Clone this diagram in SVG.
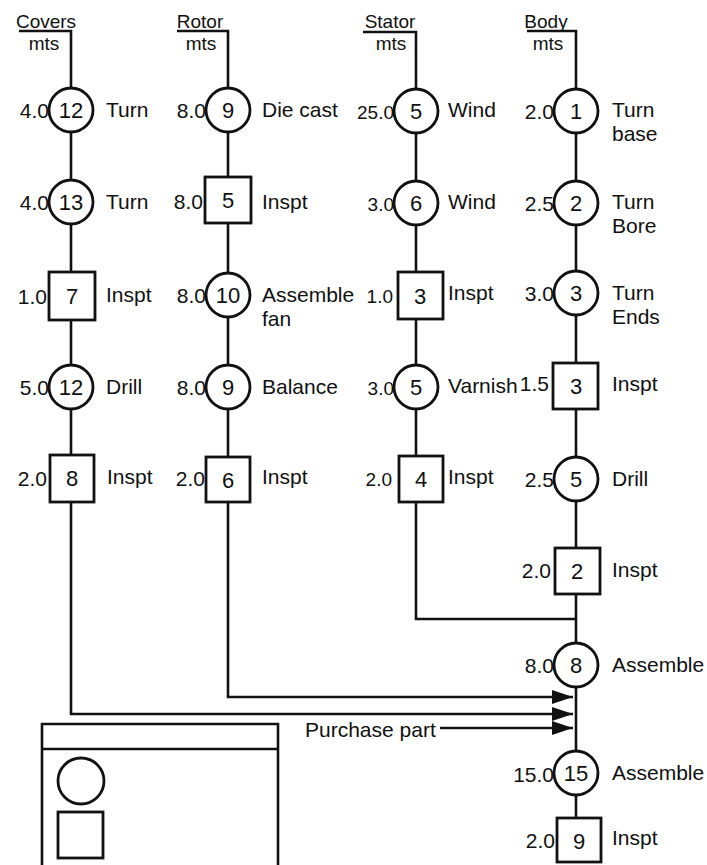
<svg xmlns="http://www.w3.org/2000/svg" width="707" height="865" viewBox="0 0 707 865">
<style>
text{font-family:"Liberation Sans",Arial,sans-serif;fill:#111}
.lbl{font-size:21px}
.num{font-size:22px;text-anchor:middle}
.t{font-size:21px;text-anchor:end}
.ts{font-size:19px;text-anchor:end}
.hd{font-size:19px;text-anchor:middle}
.sh{fill:#fff;stroke:#111;stroke-width:2.8}
.ln{fill:none;stroke:#111;stroke-width:2.6}
</style>
<defs>
<marker id="ah" markerUnits="userSpaceOnUse" markerWidth="22" markerHeight="16" refX="21" refY="7" orient="auto">
<path d="M0,0 L21,7 L0,14 Z" fill="#111"/>
</marker>
</defs>
<rect width="707" height="865" fill="#fff"/>

<g id="connectors">
<!-- Covers -->
<path class="ln" d="M19,31 H71 V88"/>
<path class="ln" d="M71,132 V180 M71,224 V272 M71,320 V365 M71,409 V455"/>
<path class="ln" d="M71,502 V714 H573" marker-end="url(#ah)"/>
<!-- Rotor -->
<path class="ln" d="M177,31 H228 V88"/>
<path class="ln" d="M228,132 V177 M228,223 V273 M228,317 V365 M228,409 V457"/>
<path class="ln" d="M228,502 V697 H573" marker-end="url(#ah)"/>
<!-- Stator -->
<path class="ln" d="M363,32 H416 V89"/>
<path class="ln" d="M416,133 V181 M416,225 V272 M416,319 V365 M416,409 V456"/>
<path class="ln" d="M416,502 V619 H576"/>
<!-- Body -->
<path class="ln" d="M527,31 H576 V89"/>
<path class="ln" d="M576,133 V181 M576,225 V271 M576,315 V363 M576,409 V457 M576,501 V548 M576,594 V643"/>
<path class="ln" d="M576,687 V751 M576,795 V818"/>
<!-- Purchase -->
<path class="ln" d="M440,728 H573" marker-end="url(#ah)"/>
</g>

<g id="headers">
<text class="hd" x="46" y="28">Covers</text><text class="hd" x="44" y="50">mts</text>
<text class="hd" x="200" y="28">Rotor</text><text class="hd" x="201" y="50">mts</text>
<text class="hd" x="390" y="28">Stator</text><text class="hd" x="391" y="50">mts</text>
<text class="hd" x="546" y="28">Body</text><text class="hd" x="548" y="50">mts</text>
</g>

<!-- Covers column -->
<g id="c1"><circle class="sh" cx="71" cy="110" r="22"/><text class="num" x="71" y="118">12</text><text class="t" x="49" y="118">4.0</text><text class="lbl" x="106" y="117">Turn</text></g>
<g id="c2"><circle class="sh" cx="71" cy="202" r="22"/><text class="num" x="71" y="210">13</text><text class="t" x="49" y="210">4.0</text><text class="lbl" x="106" y="209">Turn</text></g>
<g id="c3"><rect class="sh" x="49" y="272" width="46" height="48"/><text class="num" x="72" y="304">7</text><text class="t" x="47" y="304">1.0</text><text class="lbl" x="106" y="302">Inspt</text></g>
<g id="c4"><circle class="sh" cx="71" cy="387" r="22"/><text class="num" x="71" y="395">12</text><text class="t" x="49" y="395">5.0</text><text class="lbl" x="106" y="394">Drill</text></g>
<g id="c5"><rect class="sh" x="50" y="455" width="44" height="47"/><text class="num" x="72" y="486">8</text><text class="t" x="47" y="486">2.0</text><text class="lbl" x="107" y="484">Inspt</text></g>

<!-- Rotor column -->
<g id="r1"><circle class="sh" cx="228" cy="110" r="22"/><text class="num" x="228" y="118">9</text><text class="t" x="206" y="118">8.0</text><text class="lbl" x="262" y="117">Die cast</text></g>
<g id="r2"><rect class="sh" x="205" y="177" width="46" height="46"/><text class="num" x="228" y="208">5</text><text class="t" x="203" y="209">8.0</text><text class="lbl" x="262" y="209">Inspt</text></g>
<g id="r3"><circle class="sh" cx="228" cy="295" r="22"/><text class="num" x="228" y="303">10</text><text class="t" x="206" y="303">8.0</text><text class="lbl" x="262" y="302">Assemble</text><text class="lbl" x="262" y="326">fan</text></g>
<g id="r4"><circle class="sh" cx="228" cy="387" r="22"/><text class="num" x="228" y="395">9</text><text class="t" x="206" y="395">8.0</text><text class="lbl" x="262" y="394">Balance</text></g>
<g id="r5"><rect class="sh" x="206" y="457" width="44" height="45"/><text class="num" x="228" y="488">6</text><text class="t" x="205" y="486">2.0</text><text class="lbl" x="262" y="484">Inspt</text></g>

<!-- Stator column -->
<g id="s1"><circle class="sh" cx="416" cy="111" r="22"/><text class="num" x="416" y="119">5</text><text class="ts" x="394" y="119">25.0</text><text class="lbl" x="448" y="117">Wind</text></g>
<g id="s2"><circle class="sh" cx="416" cy="203" r="22"/><text class="num" x="416" y="211">6</text><text class="ts" x="394" y="211">3.0</text><text class="lbl" x="448" y="209">Wind</text></g>
<g id="s3"><rect class="sh" x="398" y="272" width="45" height="47"/><text class="num" x="420" y="304">3</text><text class="ts" x="393" y="303">1.0</text><text class="lbl" x="448" y="300">Inspt</text></g>
<g id="s4"><circle class="sh" cx="416" cy="387" r="22"/><text class="num" x="416" y="395">5</text><text class="ts" x="394" y="395">3.0</text><text class="lbl" x="448" y="393">Varnish</text></g>
<g id="s5"><rect class="sh" x="399" y="456" width="44" height="46"/><text class="num" x="421" y="487">4</text><text class="ts" x="392" y="486">2.0</text><text class="lbl" x="448" y="484">Inspt</text></g>

<!-- Body column -->
<g id="b1"><circle class="sh" cx="576" cy="111" r="22"/><text class="num" x="576" y="119">1</text><text class="t" x="554" y="119">2.0</text><text class="lbl" x="612" y="117">Turn</text><text class="lbl" x="612" y="141">base</text></g>
<g id="b2"><circle class="sh" cx="576" cy="203" r="22"/><text class="num" x="576" y="211">2</text><text class="t" x="554" y="211">2.5</text><text class="lbl" x="612" y="209">Turn</text><text class="lbl" x="612" y="233">Bore</text></g>
<g id="b3"><circle class="sh" cx="576" cy="293" r="22"/><text class="num" x="576" y="301">3</text><text class="t" x="554" y="301">3.0</text><text class="lbl" x="612" y="300">Turn</text><text class="lbl" x="612" y="324">Ends</text></g>
<g id="b4"><rect class="sh" x="553" y="363" width="45" height="46"/><text class="num" x="576" y="394">3</text><text class="t" x="549" y="391">1.5</text><text class="lbl" x="612" y="391">Inspt</text></g>
<g id="b5"><circle class="sh" cx="576" cy="479" r="22"/><text class="num" x="576" y="487">5</text><text class="t" x="554" y="487">2.5</text><text class="lbl" x="612" y="486">Drill</text></g>
<g id="b6"><rect class="sh" x="555" y="548" width="45" height="46"/><text class="num" x="577" y="579">2</text><text class="t" x="551" y="578">2.0</text><text class="lbl" x="612" y="577">Inspt</text></g>
<g id="b7"><circle class="sh" cx="576" cy="665" r="22"/><text class="num" x="576" y="673">8</text><text class="t" x="554" y="673">8.0</text><text class="lbl" x="612" y="672">Assemble</text></g>
<g id="b8"><circle class="sh" cx="576" cy="773" r="22"/><text class="num" x="576" y="781">15</text><text class="t" x="554" y="782">15.0</text><text class="lbl" x="612" y="780">Assemble</text></g>
<g id="b9"><rect class="sh" x="557" y="818" width="44" height="44"/><text class="num" x="579" y="849">9</text><text class="t" x="555" y="848">2.0</text><text class="lbl" x="612" y="845">Inspt</text></g>

<g id="purchase"><text class="lbl" x="305" y="737">Purchase part</text></g>

<g id="legend">
<path class="ln" d="M42,870 V724 H278 V870"/>
<path class="ln" d="M42,749 H278"/>
<circle class="sh" cx="81" cy="781" r="23"/>
<rect class="sh" x="58" y="812" width="45" height="46"/>
</g>
</svg>
